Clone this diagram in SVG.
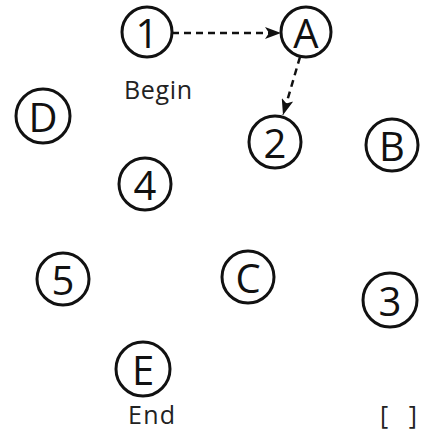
<svg xmlns="http://www.w3.org/2000/svg" width="422" height="438" viewBox="0 0 422 438">
<style>
.n circle{fill:none;stroke:#111;stroke-width:3}
.n text{font-family:"Open Sans","Liberation Sans",sans-serif;font-size:40px;fill:#111;text-anchor:middle;dominant-baseline:central}
.lbl{font-family:"Open Sans","Liberation Sans",sans-serif;font-size:25px;fill:#222}
.e{stroke:#111;stroke-width:2.5;stroke-dasharray:7 5;fill:none}
</style>
<defs>
<marker id="ah" viewBox="0 0 16 12" refX="16" refY="6" markerWidth="16" markerHeight="12" markerUnits="userSpaceOnUse" orient="auto">
<path d="M0,0 L16,6 L0,12 L4,6 Z" fill="#111"/>
</marker>
</defs>
<rect width="422" height="438" fill="#fff"/>
<g id="edges">
<line class="e" x1="172" y1="33" x2="281" y2="33" marker-end="url(#ah)"/>
<line class="e" x1="300" y1="57" x2="283" y2="115" marker-end="url(#ah)"/>
</g>
<g id="n1" class="n"><circle cx="147" cy="32" r="25"/><text x="147" y="32">1</text></g>
<g id="nA" class="n"><circle cx="306" cy="32" r="25"/><text x="306" y="32">A</text></g>
<g id="n2" class="n"><circle cx="275" cy="142" r="26"/><text x="275" y="142">2</text></g>
<g id="nB" class="n"><circle cx="392" cy="145" r="26"/><text x="392" y="145">B</text></g>
<g id="nD" class="n"><circle cx="43" cy="116" r="27"/><text x="43" y="116">D</text></g>
<g id="n4" class="n"><circle cx="145" cy="184" r="26"/><text x="145" y="184">4</text></g>
<g id="n5" class="n"><circle cx="63" cy="279" r="26"/><text x="63" y="279">5</text></g>
<g id="nC" class="n"><circle cx="248" cy="277" r="26"/><text x="248" y="277">C</text></g>
<g id="n3" class="n"><circle cx="390" cy="300" r="27"/><text x="390" y="300">3</text></g>
<g id="nE" class="n"><circle cx="143" cy="369" r="27"/><text x="143" y="369">E</text></g>
<text class="lbl" x="124" y="99" textLength="68" lengthAdjust="spacing">Begin</text>
<text class="lbl" x="128" y="424" textLength="47" lengthAdjust="spacing">End</text>
<text class="lbl" x="380" y="424" textLength="37" lengthAdjust="spacing">[ ]</text>
</svg>
